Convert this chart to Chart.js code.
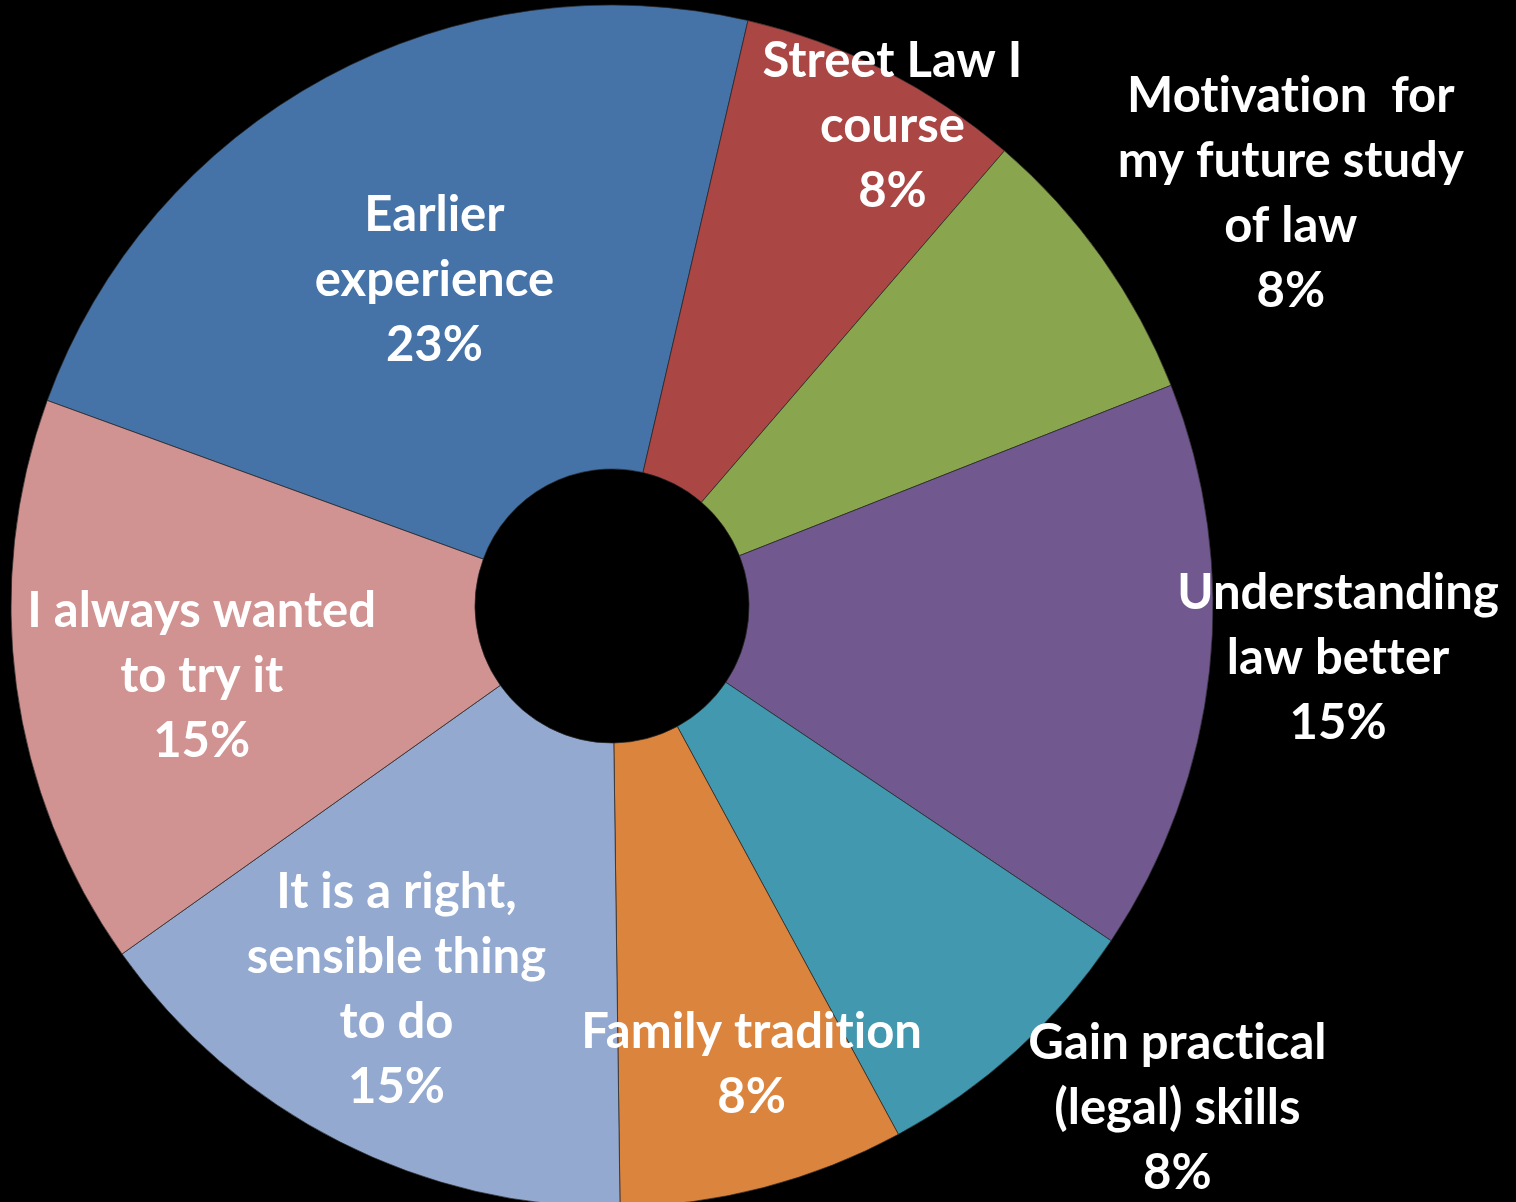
<!DOCTYPE html>
<html>
<head>
<meta charset="utf-8">
<script src="https://cdn.jsdelivr.net/npm/chart.js@4"></script>
<style>
  html, body { margin: 0; padding: 0; background: #000; overflow: hidden; }
  #wrap { width: 1516px; height: 1202px; }
</style>
</head>
<body>
<div id="wrap"><canvas id="reasons-chart" width="1516" height="1202"></canvas></div>
<script>
// Reasons for taking the course - doughnut
const categories = [
  ['Earlier', 'experience'],
  ['Street Law I', 'course'],
  ['Motivation  for', 'my future study', 'of law'],
  ['Understanding', 'law better'],
  ['Gain practical', '(legal) skills'],
  ['Family tradition'],
  ['It is a right,', 'sensible thing', 'to do'],
  ['I always wanted', 'to try it']
];
const responses = [3, 1, 1, 2, 1, 1, 2, 2];
const sliceColors = ['#4572A7', '#AA4643', '#89A54E', '#71588F', '#4198AF', '#DB843D', '#93A9CF', '#D19392'];

// where each label sits: fraction of outer radius, nudge in degrees from slice middle
const labelRadius = [0.62, 0.927, 1.323, 1.211, 1.256, 0.794, 0.730, 0.692];
const labelNudge = [0, 3.3, 4.0, -2.2, -6.2, -2.4, 2.5, -1.7];

(function() {
  'use strict';

  const total = responses.reduce((a, b) => a + b, 0);

  const sliceLabels = {
    id: 'sliceLabels',
    afterDatasetsDraw(chart) {
      const ctx = chart.ctx;
      const meta = chart.getDatasetMeta(0);
      ctx.save();
      ctx.fillStyle = '#FFFFFF';
      ctx.font = 'bold 49px Lato, "Noto Sans", sans-serif';
      ctx.letterSpacing = '0.01px'; // keeps Lato from joining "ti"
      ctx.textAlign = 'center';
      ctx.textBaseline = 'middle';
      const lineH = 65;
      meta.data.forEach((arc, i) => {
        const mid = (arc.startAngle + arc.endAngle) / 2 + labelNudge[i] * Math.PI / 180;
        const r = arc.outerRadius * labelRadius[i];
        const cx = arc.x + r * Math.cos(mid);
        const cy = arc.y + r * Math.sin(mid) + 2;
        const lines = categories[i].concat([Math.round(responses[i] / total * 100) + '%']);
        lines.forEach((t, k) => {
          ctx.fillText(t, cx, cy + (k - (lines.length - 1) / 2) * lineH);
        });
      });
      ctx.restore();
    }
  };

  const ctx = document.getElementById('reasons-chart').getContext('2d');
  new Chart(ctx, {
    type: 'doughnut',
    data: {
      labels: categories.map(c => c.join(' ')),
      datasets: [{
        data: responses,
        backgroundColor: sliceColors,
        borderColor: 'rgba(40,40,40,0.7)',
        borderWidth: 1,
        clip: false
      }]
    },
    options: {
      responsive: false,
      animation: false,
      devicePixelRatio: 1,
      rotation: -70,
      radius: 601,
      cutout: '22.8%',
      layout: { padding: { left: 0, right: 292, top: 10, bottom: 0 } },
      plugins: {
        legend: { display: false },
        tooltip: { enabled: false }
      }
    },
    plugins: [sliceLabels]
  });
})();
</script>
</body>
</html>
